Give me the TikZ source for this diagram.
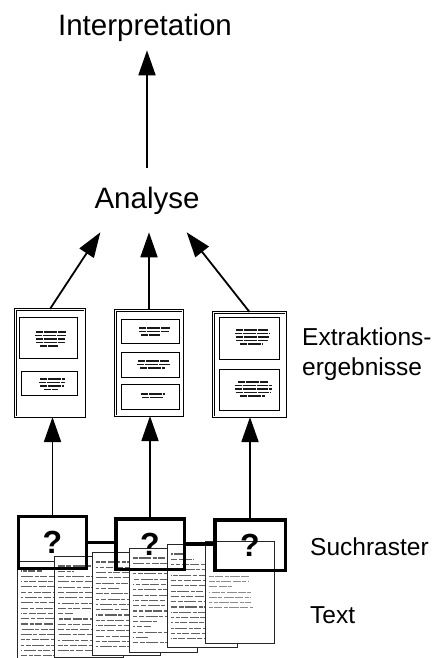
\documentclass[tikz,border=0pt]{standalone}
\usepackage{fontspec}
\setmainfont{Liberation Sans}
\usetikzlibrary{arrows.meta}
\def\rmarg{3}
\newcommand\mkpage[9]{% name, x1, y1, x2, y2, text start, text end, seed, line style
  \pgfmathsetseed{#8}
  \node[tpage, minimum width={#4-#2}, minimum height={#5-#3}] (#1) at ({(#2+#4)/2},{(#3+#5)/2}) {};
  \begin{scope}
    \clip (#2+1,#3+1) rectangle (#4-1,#5-1);
    \pgfmathtruncatemacro\nl{(#7-#6)/5.3}
    \foreach \k in {0,...,\nl}{
      \pgfmathsetmacro\yy{#6+\k*5.3}
      \pgfmathsetmacro\rr{rnd}
      \pgfmathsetmacro\xe{\rr<0.13 ? #2+14+120*\rr : #4-\rmarg-10*rnd}
      \pgfmathsetmacro\ph{30*rnd}
      \draw[#9, dash phase=\ph pt] (#2+3.5,\yy) -- (\xe,\yy);
    }
  \end{scope}
}
\newcommand\txl[3]{\draw[blob] (#1,#3) -- (#2,#3);}
\begin{document}
\begin{tikzpicture}[x=1pt,y=-1pt,
  arr/.style={line width=1.8pt,-{Triangle[width=17pt,length=25pt]}},
  epage/.style={draw, double, double distance=1.3pt, line width=0.6pt, inner sep=0pt},
  ibox/.style={draw, line width=1.3pt, inner sep=0pt},
  qbox/.style={draw, line width=3.5pt, inner sep=0pt, font=\fontsize{32}{32}\selectfont\bfseries},
  tpage/.style={draw=black!85, line width=0.9pt, fill=white, inner sep=0pt},
  tline/.style={line width=1.1pt, black!62, dash pattern=on 9pt off 1.6pt on 5pt off 1.6pt on 12pt off 1.6pt on 4pt off 1.6pt on 7pt off 1.6pt},
  tlinelight/.style={line width=0.7pt, black!45, dash pattern=on 8pt off 1.4pt on 4pt off 1.4pt on 10pt off 1.4pt},
  blob/.style={line width=1.6pt, black!90, dash pattern=on 7pt off 0.6pt on 4pt off 0.6pt on 9pt off 0.6pt},
  lab/.style={font=\fontsize{24.5}{30}\selectfont, inner sep=0pt},
  big/.style={font=\fontsize{29.5}{34}\selectfont}
]
\useasboundingbox (0,0) rectangle (436,658);
\clip (0,0) rectangle (436,658);
\fill[white] (0,0) rectangle (436,658);

% text pages (back to front)
\mkpage{t1}{17}{561}{86}{668}{571}{668}{3}{tline}
\mkpage{t2}{54}{556}{123}{657}{566}{652}{5}{tline}
\mkpage{t3}{92}{552}{160}{655}{562}{650}{7}{tline}
\mkpage{t4}{129}{548}{197}{652}{558}{646}{11}{tline}
\mkpage{t5}{167}{544}{237}{647}{554}{641}{13}{tline}
\def\rmarg{20}
\mkpage{t6}{205}{541}{274}{643}{576}{611}{17}{tlinelight}

% search grid
\node[qbox, minimum width=68pt, minimum height=52pt] (q1) at (52.5,542.5) {?};
\node[qbox, minimum width=68.5pt, minimum height=50.5pt] (q2) at (150,544) {?};
\node[qbox, minimum width=70.5pt, minimum height=50.5pt] (q3) at (250,545) {?};
\draw[line width=3.5pt] (q1.east) -- (q1.east -| q2.west);
\draw[line width=3.5pt] (q2.east) -- (q2.east -| q3.west);

% extraction result pages
\node[epage, minimum width=69.5pt, minimum height=107.5pt] (pA) at (50,363) {};
\node[epage, minimum width=67.5pt, minimum height=105.5pt] (pB) at (149,363) {};
\node[epage, minimum width=72.5pt, minimum height=104.5pt] (pC) at (249.5,364.5) {};

\node[ibox, minimum width=57.7pt, minimum height=40.7pt] (a1) at (48.5,338) {};
\node[ibox, minimum width=55.7pt, minimum height=23.7pt] (a2) at (49.5,383.5) {};
\node[ibox, minimum width=57.7pt, minimum height=23.7pt] (b1) at (150.5,331.5) {};
\node[ibox, minimum width=57.7pt, minimum height=24.7pt] (b2) at (150.5,365) {};
\node[ibox, minimum width=57.7pt, minimum height=24.7pt] (b3) at (150.5,397) {};
\node[ibox, minimum width=59.7pt, minimum height=41.7pt] (c1) at (249.5,338.5) {};
\node[ibox, minimum width=59.7pt, minimum height=40.7pt] (c2) at (249.5,390) {};

\txl{36}{66}{332}\txl{35}{66}{335.5}\txl{36}{65}{339}\txl{36}{65}{342.5}\txl{40}{58}{346}
\txl{40}{65}{379}\txl{39}{65}{382.5}\txl{40}{64}{386}\txl{44}{58}{389.5}
\txl{139}{170}{328}\txl{139}{169}{331.5}\txl{141}{160}{335}
\txl{138}{169}{361}\txl{137}{170}{364.5}\txl{140}{165}{368}
\txl{141}{165}{394}\txl{142}{163}{397.5}
\txl{236}{268}{330}\txl{235}{270}{333.5}\txl{236}{269}{337}\txl{236}{268}{340.5}\txl{240}{262}{344}
\txl{238}{268}{382}\txl{235}{272}{385.5}\txl{235}{272}{389}\txl{236}{271}{392.5}\txl{240}{265}{396}

% texts
\node[big, anchor=base, inner xsep=0pt, inner ysep=8pt] (interp) at (145,36) {Interpretation};
\node[big, anchor=base, inner xsep=0pt, inner ysep=18pt] (an) at (147,208) {Analyse};
\node[lab, align=left, anchor=north west] (ex) at (302,327.4) {Extraktions-\\ergebnisse};
\node[lab, anchor=base west] (sr) at (310,555) {Suchraster};
\node[lab, anchor=base west] (tx) at (310,623) {Text};

% arrows
\draw[arr] (an.north) -- (an.north |- interp.south);
\draw[arr] (pA.north) -- ([xshift=6pt]an.south west);
\draw[arr] (pB.north) -- (pB.north |- an.south);
\draw[arr] (pC.north) -- ([xshift=-13pt]an.south east);
\draw[arr] (q1.north) -- (q1.north |- pA.south);
\draw[arr] (q2.north) -- (q2.north |- pB.south);
\draw[arr] (q3.north) -- (q3.north |- pC.south);
\end{tikzpicture}
\end{document}
